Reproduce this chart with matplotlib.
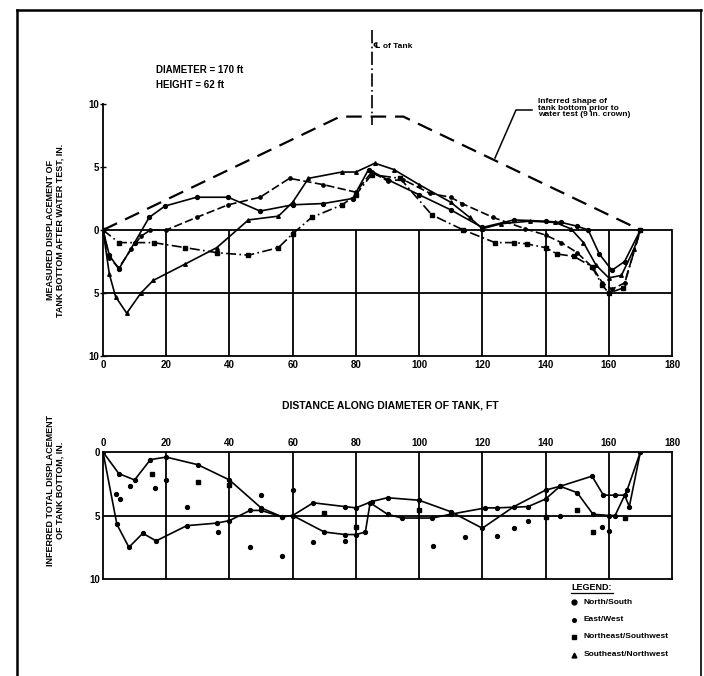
import numpy as np
import matplotlib.pyplot as plt
from matplotlib.lines import Line2D

plt.rcParams['font.family'] = ['Liberation Sans', 'DejaVu Sans']
plt.rcParams['font.weight'] = 'bold'

# measured displacement after water test (in., + is up)
ns_x = [0, 2, 5, 10, 14.6, 19.6, 29.6, 39.6, 49.7, 60, 69.7, 79, 84, 90, 100, 110, 120, 130, 140, 145, 150, 153.5, 157, 161, 165, 170]
ns_y = [0, -2.0, -3.1, -1.0, 1.0, 1.9, 2.6, 2.6, 1.5, 2.0, 2.1, 2.5, 4.8, 4.0, 2.8, 1.6, 0.2, 0.8, 0.7, 0.6, 0.3, 0.0, -1.9, -3.2, -2.5, 0]

ew_x = [0, 2, 5, 9, 12, 15, 20, 29.6, 39.6, 49.7, 59, 69.7, 80, 85, 90, 95, 103.5, 110, 113.6, 123.4, 133.5, 140, 145, 150, 155, 158, 161, 165, 170]
ew_y = [0, -2.2, -3.0, -1.5, -0.5, 0.0, 0.0, 1.0, 2.0, 2.6, 4.1, 3.6, 3.0, 4.6, 3.9, 4.0, 2.9, 2.6, 2.1, 1.0, 0.1, -0.4, -1.0, -1.8, -3.0, -4.2, -4.7, -4.2, 0]

nesw_x = [0, 5, 16, 26, 36, 46, 55.5, 60, 66, 75.7, 80, 85, 94, 104, 114, 124, 130, 134, 140, 143.6, 149, 154.6, 158, 160, 164.6, 170]
nesw_y = [0, -1.0, -1.0, -1.4, -1.8, -2.0, -1.4, -0.3, 1.0, 2.0, 2.8, 4.4, 4.1, 1.2, 0.0, -1.0, -1.0, -1.1, -1.4, -1.9, -2.1, -2.9, -4.4, -5.0, -4.6, 0]

senw_x = [0, 2, 4, 7.5, 12, 15.9, 26, 36, 46, 55.5, 60, 65, 75.5, 80, 86, 92, 100, 110, 116, 120, 126, 135, 143, 148, 152, 156, 160, 164, 168, 170]
senw_y = [0, -3.5, -5.3, -6.6, -5.0, -4.0, -2.7, -1.4, 0.8, 1.1, 2.2, 4.1, 4.6, 4.6, 5.3, 4.8, 3.6, 2.2, 1.0, 0.1, 0.5, 0.7, 0.6, 0.1, -1.0, -2.8, -3.8, -3.6, -1.5, 0]

# inferred shape before the test (9 in. crown)
crown_x = [0, 75, 95, 170]
crown_y = [0, 9, 9, 0]

# inferred total displacement (in., + is down)
tot1_x = [0, 5, 10, 15, 20, 30, 40, 50, 56.6, 60, 66.5, 76.6, 80, 85, 90, 100, 110, 120, 130, 140, 144.6, 150, 155, 160, 162, 165.8, 170]
tot1_y = [0, 1.7, 2.2, 0.6, 0.4, 1.0, 2.2, 4.4, 5.1, 5.0, 4.0, 4.3, 4.4, 3.9, 3.6, 3.8, 4.7, 6.0, 4.3, 3.0, 2.7, 3.2, 4.9, 5.0, 5.0, 3.0, 0]

tot2_x = [0, 4.4, 8.2, 12.6, 16.8, 26.5, 36, 40, 46.5, 50, 56.6, 60, 70, 76.6, 80, 83, 84.5, 90, 94.5, 104, 110, 121, 124.5, 134.5, 140, 144.6, 154.7, 158.3, 162, 165, 166.5, 170]
tot2_y = [0, 5.7, 7.5, 6.4, 7.0, 5.8, 5.6, 5.4, 4.6, 4.6, 5.1, 5.0, 6.3, 6.5, 6.5, 6.3, 4.0, 4.9, 5.2, 5.2, 4.9, 4.4, 4.4, 4.3, 3.7, 2.7, 1.9, 3.4, 3.4, 3.4, 4.3, 0]

dots_x = [4, 5.4, 8.5, 16.4, 20, 26.5, 36.5, 46.5, 50, 56.6, 60, 66.5, 76.6, 104.5, 114.5, 124.5, 130, 134.5, 144.6, 158, 160]
dots_y = [3.3, 3.7, 2.7, 2.8, 2.2, 4.3, 6.3, 7.5, 3.4, 8.2, 3.0, 7.1, 7.0, 7.4, 6.7, 6.6, 6.0, 5.4, 5.0, 5.9, 6.2]

sq_x = [15.4, 30, 40, 70, 80, 100, 140, 150, 155, 165]
sq_y = [1.7, 2.4, 2.6, 4.8, 5.9, 4.6, 5.1, 4.6, 6.3, 5.2]

xticks = [0, 20, 40, 60, 80, 100, 120, 140, 160, 180]

W, H = 704, 676
fig = plt.figure(figsize=(W / 100, H / 100), dpi=100)


def px(x, y):
    return x / W, 1 - y / H


def axes_px(left, top, right, bottom):
    return fig.add_axes([left / W, 1 - bottom / H, (right - left) / W, (bottom - top) / H])


lw_grid = 1.3
lw_line = 1.2
fs = 7

# ---------------- upper chart ----------------
ax = axes_px(103, 104, 672, 356)
ax.set_xlim(0, 180)
ax.set_ylim(-10, 10)
for s in ['top']:
    ax.spines[s].set_visible(False)
for s in ['left', 'right', 'bottom']:
    ax.spines[s].set_linewidth(lw_grid)
ax.spines['right'].set_bounds(-10, 0)
ax.hlines([0, -5], 0, 180, color='black', lw=lw_grid)
ax.vlines(xticks[1:-1], -10, 0, color='black', lw=lw_grid)
ax.set_yticks([10, 5, 0, -5, -10])
ax.set_yticklabels(['10', '5', '0', '5', '10'])
ax.set_xticks(xticks)
ax.set_xticklabels([str(v) for v in xticks])
ax.tick_params(axis='y', direction='inout', length=4, width=1, labelsize=fs, pad=1)
ax.tick_params(axis='x', length=0, labelsize=fs, pad=3)
for t in ax.get_xticklabels() + ax.get_yticklabels():
    t.set_fontweight('bold')

ax.plot(crown_x, crown_y, color='black', lw=1.6, dashes=(7, 4))
ax.plot(ns_x, ns_y, color='black', lw=lw_line, marker='o', ms=2.8)
ax.plot(ew_x, ew_y, color='black', lw=lw_line, dashes=(5, 2), marker='o', ms=2.4)
ax.plot(nesw_x, nesw_y, color='black', lw=lw_line, dashes=(6, 2, 1, 2), marker='s', ms=2.4)
ax.plot(senw_x, senw_y, color='black', lw=lw_line, marker='^', ms=2.6)

# tank centre line
ax.plot([85, 85], [15.9, 8.3], color='black', lw=1.2, dashes=(8, 2, 1, 2), clip_on=False)
ax.text(85.5, 14.6, '\u2104 of Tank', fontsize=6, fontweight='bold', va='center', ha='left')

fig.text(*px(156, 70), 'DIAMETER = 170 ft', fontsize=fs, fontweight='bold', va='center')
fig.text(*px(156, 85), 'HEIGHT = 62 ft', fontsize=fs, fontweight='bold', va='center')

fig.text(*px(538, 98), 'Inferred shape of\ntank bottom prior to\nwater test (9 in. crown)',
         fontsize=6, fontweight='bold', va='top', ha='left', linespacing=0.95)
fig.add_artist(Line2D([532 / W, 516 / W, 495 / W], [1 - 110 / H, 1 - 110 / H, 1 - 158 / H],
                      color='black', lw=1.1))

fig.text(*px(55, 230), 'MEASURED DISPLACEMENT OF\nTANK BOTTOM AFTER WATER TEST, IN.',
         fontsize=6.5, fontweight='bold', rotation=90, ha='center', va='center',
         multialignment='center', linespacing=1.1)

fig.text(*px(390, 406), 'DISTANCE ALONG DIAMETER OF TANK, FT',
         fontsize=7.5, fontweight='bold', ha='center', va='center')

# ---------------- lower chart ----------------
bx = axes_px(103, 452, 672, 579)
bx.set_xlim(0, 180)
bx.set_ylim(10, 0)
for s in bx.spines.values():
    s.set_linewidth(lw_grid)
bx.hlines([5], 0, 180, color='black', lw=lw_grid)
bx.vlines(xticks[1:-1], 0, 10, color='black', lw=lw_grid)
bx.set_yticks([0, 5, 10])
bx.set_yticklabels(['0', '5', '10'])
bx.xaxis.tick_top()
bx.set_xticks(xticks)
bx.set_xticklabels([str(v) for v in xticks])
bx.tick_params(axis='y', length=0, labelsize=fs, pad=2)
bx.tick_params(axis='x', length=0, labelsize=fs, pad=3)
for t in bx.get_xticklabels() + bx.get_yticklabels():
    t.set_fontweight('bold')

bx.plot(tot1_x, tot1_y, color='black', lw=lw_line, marker='o', ms=2.8)
bx.plot(tot2_x, tot2_y, color='black', lw=lw_line, marker='o', ms=2.8)
bx.plot(dots_x, dots_y, 'o', color='black', ms=2.8)
bx.plot(sq_x, sq_y, 's', color='black', ms=3.2)

fig.text(*px(55, 490), 'INFERRED TOTAL DISPLACEMENT\nOF TANK BOTTOM, IN.',
         fontsize=6.5, fontweight='bold', rotation=90, ha='center', va='center',
         multialignment='center', linespacing=1.1)

# legend
fig.text(*px(571, 587), 'LEGEND:', fontsize=6.5, fontweight='bold', va='center')
fig.add_artist(Line2D([571 / W, 613 / W], [1 - 593 / H, 1 - 593 / H], color='black', lw=0.9))
leg_names = ['North/South', 'East/West', 'Northeast/Southwest', 'Southeast/Northwest']
leg_marks = ['o', 'o', 's', '^']
leg_sizes = [3.5, 2.6, 3.5, 3.5]
for i, (name, m, s) in enumerate(zip(leg_names, leg_marks, leg_sizes)):
    yy = 602 + i * 17.5
    fig.add_artist(Line2D([574 / W], [1 - yy / H], marker=m, ms=s, color='black', lw=0))
    fig.text(*px(584, yy), name, fontsize=6, fontweight='bold', va='center')

# page border
fig.add_artist(Line2D([17 / W, 17 / W], [0, 1 - 10 / H], color='black', lw=1.8))
fig.add_artist(Line2D([701 / W, 701 / W], [0, 1 - 10 / H], color='black', lw=1.2))
fig.add_artist(Line2D([17 / W, 701 / W], [1 - 10 / H, 1 - 10 / H], color='black', lw=1.8))

fig.savefig('out.png', dpi=100)
